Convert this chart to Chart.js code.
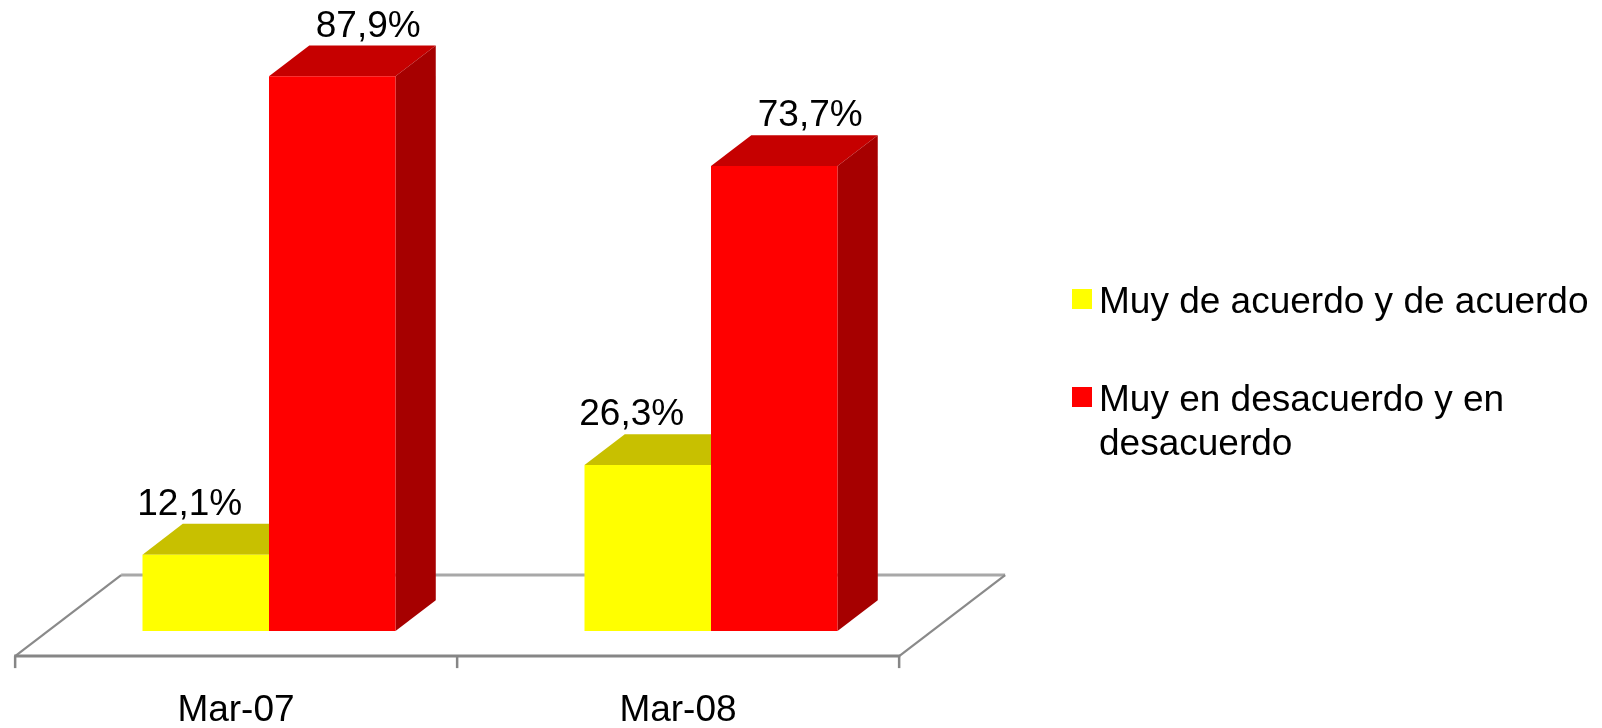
<!DOCTYPE html>
<html>
<head>
<meta charset="utf-8">
<script src="https://cdn.jsdelivr.net/npm/chart.js@4/dist/chart.umd.min.js"></script>
<style>
html,body{margin:0;padding:0;background:#ffffff;}
#wrap{width:1602px;height:728px;position:relative;}
</style>
</head>
<body>
<div id="wrap"><canvas id="c"></canvas></div>
<script>
// ---- data ----
const categories = ['Mar-07', 'Mar-08'];
const seriesNames = ['Muy de acuerdo y de acuerdo', 'Muy en desacuerdo y en desacuerdo'];
const acuerdo = [12.1, 26.3];
const desacuerdo = [87.9, 73.7];
const legendLines = [['Muy de acuerdo y de acuerdo'], ['Muy en desacuerdo y en', 'desacuerdo']];

// ---- styles ----
const FONT = '"Liberation Sans", Arial, sans-serif';
const frontColors = ['#FFFF00', '#FF0000'];
const topColors = ['#C8C000', '#C60000'];
const sideColors = ['#A0A000', '#A60000'];
const FLOOR_D = {dx: 106, dy: -81};
const BAR_FRONT = 0.31, BAR_BACK = 0.69;
const labelDx = [-16, 36];

function fmt(v) { return v.toFixed(1).replace('.', ',') + '%'; }

const threeD = {
  id: 'threeD',
  beforeDatasetsDraw(chart) {
    const {ctx, chartArea: a, scales: {x, y}} = chart;
    const y0 = y.getPixelForValue(0);
    const offX = -BAR_FRONT * FLOOR_D.dx, offY = -BAR_FRONT * FLOOR_D.dy;
    const L = a.left + offX, R = a.right + offX, F = y0 + offY;
    const bx = FLOOR_D.dx, by = FLOOR_D.dy;
    ctx.save();
    ctx.lineCap = 'butt';
    // back edge
    ctx.strokeStyle = '#A8A8A8'; ctx.lineWidth = 3;
    ctx.beginPath(); ctx.moveTo(L + bx, F + by); ctx.lineTo(R + bx, F + by); ctx.stroke();
    // side edges
    ctx.strokeStyle = '#8A8A8A'; ctx.lineWidth = 2.2;
    ctx.beginPath(); ctx.moveTo(L, F); ctx.lineTo(L + bx, F + by); ctx.stroke();
    ctx.beginPath(); ctx.moveTo(R, F); ctx.lineTo(R + bx, F + by); ctx.stroke();
    // front edge
    ctx.strokeStyle = '#868686'; ctx.lineWidth = 3;
    ctx.beginPath(); ctx.moveTo(L - 1, F); ctx.lineTo(R + 1, F); ctx.stroke();
    // tick marks at category boundaries
    const n = categories.length;
    const cw = (a.right - a.left) / n;
    ctx.lineWidth = 2.5;
    for (let i = 0; i <= n; i++) {
      const px = (i < n ? x.getPixelForValue(i) - cw / 2 : x.getPixelForValue(n - 1) + cw / 2) + offX;
      ctx.beginPath(); ctx.moveTo(px, F); ctx.lineTo(px, F + 12); ctx.stroke();
    }
    // top and side faces of bars
    const ddx = (BAR_BACK - BAR_FRONT) * FLOOR_D.dx, ddy = (BAR_BACK - BAR_FRONT) * FLOOR_D.dy;
    for (let i = 0; i < n; i++) {
      chart.data.datasets.forEach((ds, d) => {
        const el = chart.getDatasetMeta(d).data[i];
        const l = el.x - el.width / 2, r = el.x + el.width / 2, t = el.y, b = el.base;
        ctx.fillStyle = topColors[d];
        ctx.beginPath();
        ctx.moveTo(l, t); ctx.lineTo(r, t); ctx.lineTo(r + ddx, t + ddy); ctx.lineTo(l + ddx, t + ddy);
        ctx.closePath(); ctx.fill();
        ctx.fillStyle = sideColors[d];
        ctx.beginPath();
        ctx.moveTo(r, t); ctx.lineTo(r + ddx, t + ddy); ctx.lineTo(r + ddx, b + ddy); ctx.lineTo(r, b);
        ctx.closePath(); ctx.fill();
      });
    }
    ctx.restore();
  },
  afterDatasetsDraw(chart) {
    const {ctx} = chart;
    const ddy = (BAR_BACK - BAR_FRONT) * FLOOR_D.dy;
    ctx.save();
    ctx.font = '37px ' + FONT;
    ctx.fillStyle = '#000';
    ctx.textAlign = 'center';
    ctx.textBaseline = 'alphabetic';
    chart.data.datasets.forEach((ds, d) => {
      chart.getDatasetMeta(d).data.forEach((el, i) => {
        ctx.fillText(fmt(ds.data[i]), el.x + labelDx[d], el.y + ddy - 9);
      });
    });
    // legend
    const sq = [[1072, 289], [1072, 387]];
    const baselines = [[313], [411, 455]];
    legendLines.forEach((lines, d) => {
      ctx.fillStyle = frontColors[d];
      ctx.fillRect(sq[d][0], sq[d][1], 20, 20);
      ctx.fillStyle = '#000';
      ctx.textAlign = 'left';
      lines.forEach((ln, k) => ctx.fillText(ln, 1099, baselines[d][k]));
    });
    ctx.restore();
  }
};

new Chart(document.getElementById('c'), {
  type: 'bar',
  data: {
    labels: categories,
    datasets: [
      {label: seriesNames[0], data: acuerdo, backgroundColor: frontColors[0], borderWidth: 0},
      {label: seriesNames[1], data: desacuerdo, backgroundColor: frontColors[1], borderWidth: 0}
    ]
  },
  options: {
    responsive: true,
    maintainAspectRatio: false,
    animation: false,
    devicePixelRatio: 1,
    layout: {padding: {left: 48, right: 670, top: 0, bottom: 0}},
    datasets: {bar: {categoryPercentage: 0.5724, barPercentage: 1}},
    plugins: {legend: {display: false}, tooltip: {enabled: false}},
    scales: {
      x: {
        grid: {display: false, drawTicks: false},
        border: {display: false},
        ticks: {
          font: {family: FONT, size: 37},
          color: '#000',
          padding: 58,
          labelOffset: -33,
          maxRotation: 0,
          autoSkip: false
        },
        afterFit(s) { s.height = 97; }
      },
      y: {display: false, min: 0, max: 100}
    }
  },
  plugins: [threeD]
});
</script>
</body>
</html>
